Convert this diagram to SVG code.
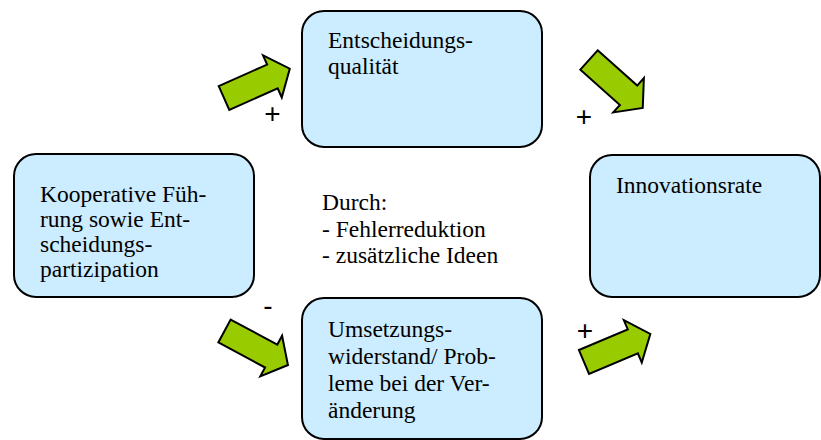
<svg xmlns="http://www.w3.org/2000/svg" xmlns:xlink="http://www.w3.org/1999/xlink" width="821" height="440" viewBox="0 0 821 440">
  <style>
    .box { fill: #CCECFF; stroke: #000; stroke-width: 2; }
    .lbl { font-family: "Liberation Serif", "Times New Roman", serif; font-size: 23.5px; fill: #000; }
    .sign { font-family: "Liberation Sans", Arial, sans-serif; font-size: 28px; fill: #000; text-anchor: middle; }
    .arrow { fill: #99CC00; stroke: #000; stroke-width: 2; stroke-linejoin: miter; }
  </style>
  <defs>
    <!-- block arrow, tail centre at origin, pointing along +x -->
    <path id="blockArrow" d="M0,-13 H53 V-23 L72,0 L53,23 V13 H0 Z"/>
  </defs>
  <rect width="821" height="440" fill="#fff"/>

  <g id="connectors">
    <use xlink:href="#blockArrow" class="arrow" transform="translate(224,98) rotate(-24)"/>
    <use xlink:href="#blockArrow" class="arrow" transform="translate(589,60) rotate(41.7)"/>
    <use xlink:href="#blockArrow" class="arrow" transform="translate(224.5,331) rotate(28.2)"/>
    <use xlink:href="#blockArrow" class="arrow" transform="translate(584,362) rotate(-22.9)"/>
    <text class="sign" x="272.5" y="122.5">+</text>
    <text class="sign" x="584" y="126">+</text>
    <text class="sign" x="268" y="315">-</text>
    <text class="sign" x="585" y="340">+</text>
  </g>

  <g id="kooperative-fuehrung">
    <rect class="box" x="14" y="154" width="240" height="143" rx="22"/>
    <text class="lbl" x="40" y="202">Kooperative Füh-</text>
    <text class="lbl" x="40" y="227">rung sowie Ent-</text>
    <text class="lbl" x="40" y="252">scheidungs-</text>
    <text class="lbl" x="40" y="277">partizipation</text>
  </g>

  <g id="entscheidungsqualitaet">
    <rect class="box" x="302" y="11" width="240" height="136" rx="22"/>
    <text class="lbl" x="328" y="48">Entscheidungs-</text>
    <text class="lbl" x="328" y="74">qualität</text>
  </g>

  <g id="innovationsrate">
    <rect class="box" x="590" y="155" width="230" height="142" rx="22"/>
    <text class="lbl" x="616" y="192.5">Innovationsrate</text>
  </g>

  <g id="umsetzungswiderstand">
    <rect class="box" x="302" y="298" width="240" height="141" rx="22"/>
    <text class="lbl" x="328" y="337">Umsetzungs-</text>
    <text class="lbl" x="328" y="364">widerstand/ Prob-</text>
    <text class="lbl" x="328" y="391">leme bei der Ver-</text>
    <text class="lbl" x="328" y="418">änderung</text>
  </g>

  <g id="durch">
    <text class="lbl" x="322" y="210">Durch:</text>
    <text class="lbl" x="322" y="237">- Fehlerreduktion</text>
    <text class="lbl" x="322" y="263">- zusätzliche Ideen</text>
  </g>
</svg>
